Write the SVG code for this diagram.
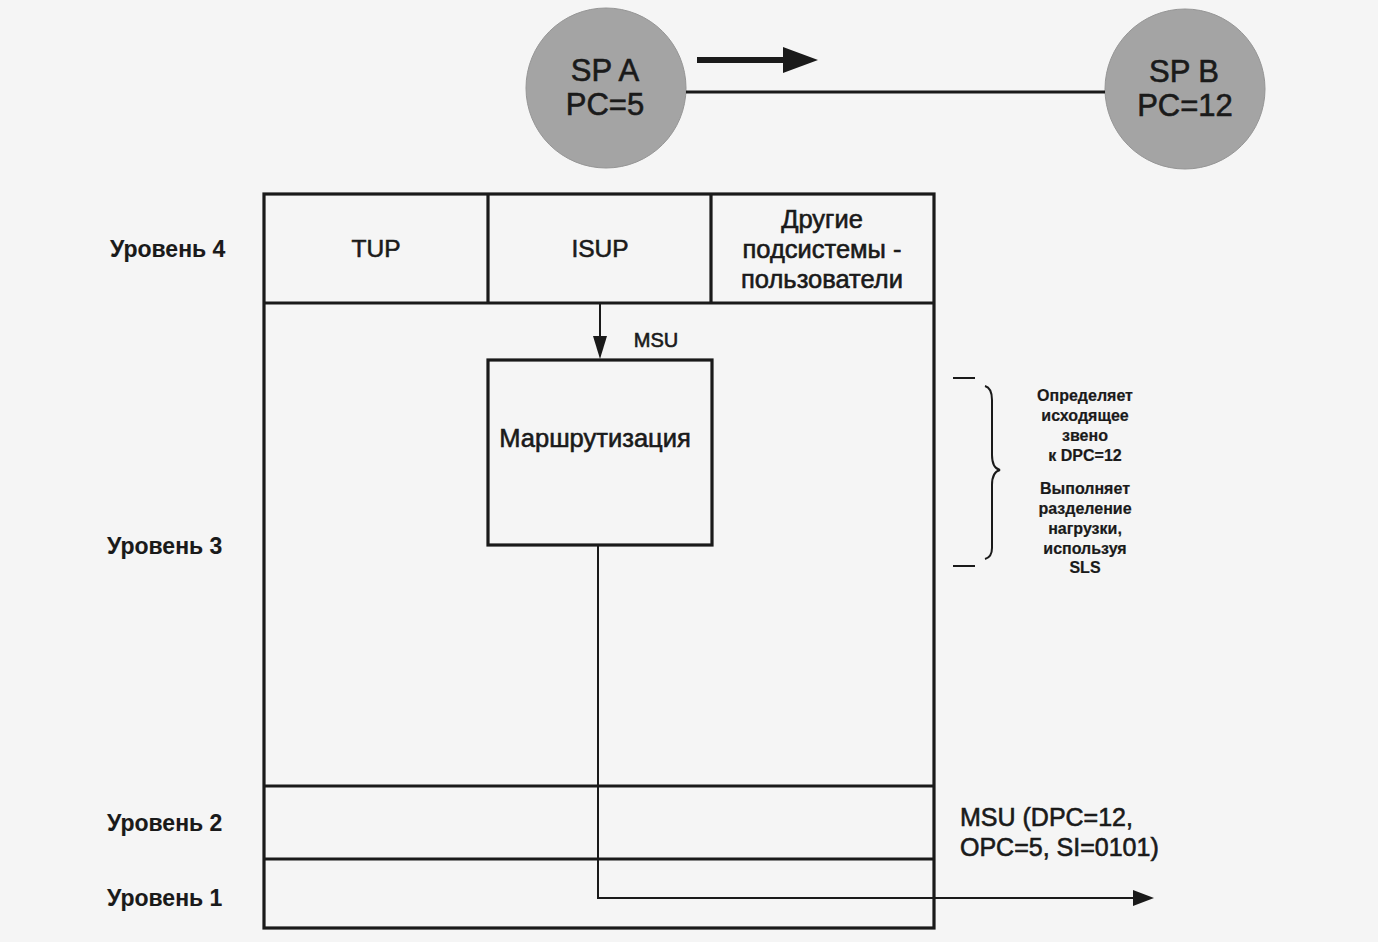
<svg xmlns="http://www.w3.org/2000/svg" width="1378" height="942" viewBox="0 0 1378 942">
<defs>
<style>
.t{font-family:"Liberation Sans",Arial,sans-serif;fill:#1a1a1a;stroke:#1a1a1a;stroke-width:0.6}
.lv{font-size:23px;font-weight:bold;stroke-width:0.1}
.big{font-size:24.5px}
.sm{font-size:16px;font-weight:bold;stroke-width:0.2}
.ln{stroke:#1a1a1a;stroke-width:3.2;fill:none}
.thin{stroke:#1a1a1a;stroke-width:2;fill:none}
.head{fill:#1a1a1a}
.sp{fill:#a4a4a4;stroke:#959595;stroke-width:1}
</style>
</defs>
<rect width="1378" height="942" fill="#f5f5f5"/>

<g id="spA">
<ellipse class="sp" cx="606" cy="88" rx="80" ry="80"/>
<text class="t" x="605" y="81" text-anchor="middle" font-size="31">SP A</text>
<text class="t" x="605" y="115" text-anchor="middle" font-size="31">PC=5</text>
</g>
<g id="spB">
<ellipse class="sp" cx="1185" cy="89" rx="80" ry="80"/>
<text class="t" x="1184" y="82" text-anchor="middle" font-size="31">SP B</text>
<text class="t" x="1185" y="116" text-anchor="middle" font-size="31">PC=12</text>
</g>

<g id="levels">
<text class="t lv" x="110" y="257">Уровень 4</text>
<text class="t lv" x="107" y="554">Уровень 3</text>
<text class="t lv" x="107" y="831">Уровень 2</text>
<text class="t lv" x="107" y="906">Уровень 1</text>
</g>

<g id="stack">
<rect class="ln" x="264" y="194" width="670" height="734"/>
<line class="ln" x1="264" y1="303" x2="934" y2="303"/>
<line class="ln" x1="488" y1="194" x2="488" y2="303"/>
<line class="ln" x1="711" y1="194" x2="711" y2="303"/>
<line class="ln" x1="264" y1="786" x2="934" y2="786"/>
<line class="ln" x1="264" y1="859" x2="934" y2="859"/>
</g>

<g id="tup"><text class="t big" x="376" y="257" text-anchor="middle">TUP</text></g>
<g id="isup"><text class="t big" x="600" y="257" text-anchor="middle">ISUP</text></g>
<g id="other">
<text class="t" font-size="25.5" x="822" y="228" text-anchor="middle">Другие</text>
<text class="t" font-size="25.5" x="822" y="258" text-anchor="middle">подсистемы -</text>
<text class="t" font-size="25.5" x="822" y="288" text-anchor="middle">пользователи</text>
</g>

<g id="routing">
<rect class="ln" x="488" y="360" width="224" height="185"/>
<text class="t" font-size="25.5" x="595" y="447" text-anchor="middle">Маршрутизация</text>
</g>

<g id="connectors">
<line class="ln" x1="686" y1="92" x2="1105" y2="92"/>
<line x1="697" y1="60" x2="790" y2="60" stroke="#1a1a1a" stroke-width="6"/>
<polygon class="head" points="783,47 818,60 783,73"/>
<line class="thin" x1="600" y1="303" x2="600" y2="340"/>
<polygon class="head" points="593,336 607,336 600,359"/>
<polyline class="thin" points="598,545 598,898 1136,898"/>
<polygon class="head" points="1133,890 1154,898 1133,906"/>
</g>

<g id="labels">
<text class="t" x="656" y="347" text-anchor="middle" font-size="20">MSU</text>
<text class="t" x="960" y="826" font-size="25">MSU (DPC=12,</text>
<text class="t" x="960" y="856" font-size="25">OPC=5, SI=0101)</text>
</g>

<g id="annotation">
<line class="thin" x1="953" y1="378" x2="975" y2="378"/>
<line class="thin" x1="953" y1="566" x2="975" y2="566"/>
<path class="thin" d="M985,386 Q992,388 992,400 L992,455 Q992,468 1000,470 Q992,472 992,485 L992,548 Q992,557 985,559"/>
<text class="t sm" text-anchor="middle" x="1085" y="401">Определяет</text>
<text class="t sm" text-anchor="middle" x="1085" y="421">исходящее</text>
<text class="t sm" text-anchor="middle" x="1085" y="441">звено</text>
<text class="t sm" text-anchor="middle" x="1085" y="461">к DPC=12</text>
<text class="t sm" text-anchor="middle" x="1085" y="494">Выполняет</text>
<text class="t sm" text-anchor="middle" x="1085" y="514">разделение</text>
<text class="t sm" text-anchor="middle" x="1085" y="534">нагрузки,</text>
<text class="t sm" text-anchor="middle" x="1085" y="554">используя</text>
<text class="t sm" text-anchor="middle" x="1085" y="573">SLS</text>
</g>
</svg>
